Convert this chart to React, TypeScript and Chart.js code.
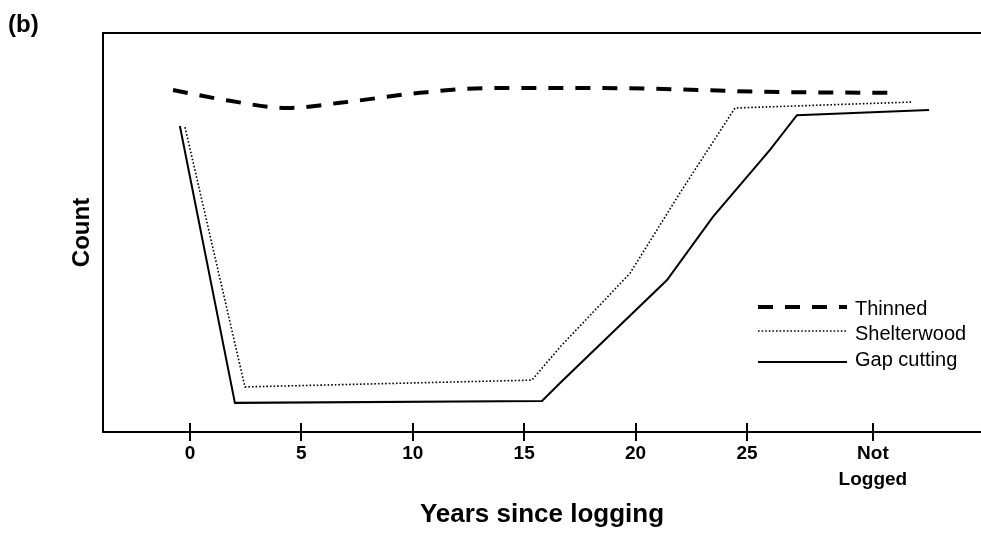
import React, { useEffect, useRef } from "react";
import { Chart, registerables } from "chart.js";

Chart.register(...registerables);

// ---- data ----
const tickValues = [0, 5, 10, 15, 20, 25, 30.65];
const tickLabels = ["0", "5", "10", "15", "20", "25", "Not\nLogged"];

const thinnedX = [-0.76, 1.8, 4.35, 6.73, 10.32, 13.46, 18.4, 26.48, 31.78];
const thinnedY = [85.7, 83.0, 81.2, 82.5, 85.0, 86.2, 86.2, 85.2, 85.0];

const shelterX = [-0.22, 2.47, 15.35, 16.61, 19.75, 21.99, 24.46, 32.41];
const shelterY = [76.4, 11.3, 13.0, 21.3, 39.8, 59.9, 81.2, 82.7];

const gapX = [-0.45, 2.02, 15.8, 16.61, 21.41, 23.47, 26.03, 27.24, 33.17];
const gapY = [76.7, 7.3, 7.8, 12.3, 38.1, 53.9, 70.7, 79.4, 80.7];

const seriesNames = ["Thinned", "Shelterwood", "Gap cutting"];

const FONT = "'Liberation Sans', Arial, Helvetica, sans-serif";

const toPoints = (xs: number[], ys: number[]) => xs.map((x, i) => ({ x, y: ys[i] }));

const framePlugin = {
  id: "frameAndLegend",
  afterDraw(chart: any) {
    const { ctx, chartArea, scales } = chart;
    const x = scales.x;
    ctx.save();
    ctx.strokeStyle = "#000";
    ctx.lineWidth = 2;
    ctx.setLineDash([]);
    // top border
    ctx.beginPath();
    ctx.moveTo(chartArea.left, chartArea.top);
    ctx.lineTo(chartArea.right, chartArea.top);
    ctx.stroke();
    // crossing tick marks
    x.ticks.forEach((t: any) => {
      const px = Math.round(x.getPixelForValue(t.value));
      ctx.beginPath();
      ctx.moveTo(px, chartArea.bottom - 9);
      ctx.lineTo(px, chartArea.bottom + 9);
      ctx.stroke();
    });
    // legend
    const lineYs = [307, 331, 362];
    const textYs = [309, 334, 360];
    chart.data.datasets.forEach((ds: any, i: number) => {
      ctx.save();
      ctx.strokeStyle = ds.borderColor;
      ctx.lineWidth = ds.borderWidth;
      ctx.setLineDash(ds.borderDash || []);
      ctx.beginPath();
      ctx.moveTo(758, lineYs[i]);
      ctx.lineTo(847, lineYs[i]);
      ctx.stroke();
      ctx.restore();
      ctx.fillStyle = "#000";
      ctx.font = `20px ${FONT}`;
      ctx.textBaseline = "middle";
      ctx.textAlign = "left";
      ctx.fillText(ds.label, 855, textYs[i]);
    });
    ctx.restore();
  },
};

export default function App() {
  const ref = useRef<HTMLCanvasElement | null>(null);

  useEffect(() => {
    if (!ref.current) return;
    const chart = new Chart(ref.current, {
      type: "line",
      data: {
        datasets: [
          {
            label: seriesNames[0],
            data: toPoints(thinnedX, thinnedY),
            borderColor: "#000",
            borderWidth: 4,
            borderDash: [15, 12],
            pointRadius: 0,
            cubicInterpolationMode: "monotone",
            fill: false,
          },
          {
            label: seriesNames[1],
            data: toPoints(shelterX, shelterY),
            borderColor: "#000",
            borderWidth: 1.6,
            borderDash: [1.6, 2],
            pointRadius: 0,
            tension: 0,
            fill: false,
          },
          {
            label: seriesNames[2],
            data: toPoints(gapX, gapY),
            borderColor: "#000",
            borderWidth: 2,
            pointRadius: 0,
            tension: 0,
            fill: false,
          },
        ],
      },
      options: {
        responsive: false,
        animation: false,
        events: [],
        layout: { padding: { left: 8, right: 0, top: 0, bottom: 0 } },
        plugins: {
          legend: { display: false },
          tooltip: { enabled: false },
          title: {
            display: true,
            text: "(b)",
            align: "start",
            color: "#000",
            font: { family: FONT, size: 24, weight: "bold", lineHeight: 1 },
            padding: { top: 13, bottom: -4 },
          },
        },
        scales: {
          x: {
            type: "linear",
            min: -3.9,
            max: 35.5,
            grid: { display: false, drawTicks: false },
            border: { display: true, color: "#000", width: 2 },
            afterBuildTicks: (scale: any) => {
              scale.ticks = tickValues.map((v) => ({ value: v }));
            },
            afterFit: (scale: any) => {
              scale.height = 105;
            },
            ticks: {
              autoSkip: false,
              maxRotation: 0,
              minRotation: 0,
              padding: 8,
              color: "#000",
              font: { family: FONT, size: 19, weight: "bold", lineHeight: 1.4 },
              callback: (v: any) => {
                const idx = tickValues.indexOf(Number(v));
                const lab = idx >= 0 ? tickLabels[idx] : "";
                return lab.includes("\n") ? lab.split("\n") : lab;
              },
            },
            title: {
              display: true,
              text: "Years since logging",
              color: "#000",
              font: { family: FONT, size: 26, weight: "bold", lineHeight: 1.2 },
              padding: { top: 0, bottom: 7 },
            },
          },
          y: {
            type: "linear",
            min: 0,
            max: 100,
            grid: { display: false, drawTicks: false },
            border: { display: true, color: "#000", width: 2 },
            ticks: { display: false },
            afterFit: (scale: any) => {
              scale.width = 95;
            },
            title: {
              display: true,
              text: "Count",
              color: "#000",
              font: { family: FONT, size: 24, weight: "bold", lineHeight: 1.2 },
              padding: { top: 60, bottom: 0 },
            },
          },
        },
      },
      plugins: [framePlugin],
    } as any);
    return () => chart.destroy();
  }, []);

  return (
    <div style={{ position: "absolute", left: 0, top: 0, width: 981, height: 537, background: "#fff" }}>
      <canvas ref={ref} width={981} height={537} style={{ display: "block" }} />
    </div>
  );
}
